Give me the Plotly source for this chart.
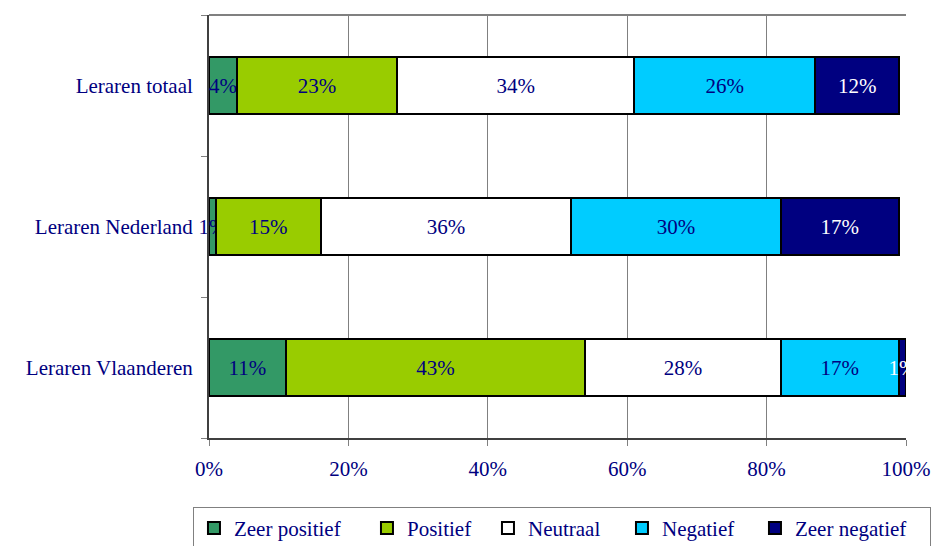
import plotly.graph_objects as go

# Categories (top to bottom) and response shares in percent
categories = ["Leraren totaal", "Leraren Nederland", "Leraren Vlaanderen"]
series_names = ["Zeer positief", "Positief", "Neutraal", "Negatief", "Zeer negatief"]
zeer_positief = [4, 1, 11]
positief = [23, 15, 43]
neutraal = [34, 36, 28]
negatief = [26, 30, 17]
zeer_negatief = [12, 17, 1]
x_ticks = [0, 20, 40, 60, 80, 100]

values = [zeer_positief, positief, neutraal, negatief, zeer_negatief]
colors = ["#339966", "#99CC00", "#FFFFFF", "#00CCFF", "#000080"]
label_colors = ["#000080", "#000080", "#000080", "#000080", "#FFFFFF"]
legend_widths = [128, 76, 89, 88, 130]  # px per legend entry

FONT = "Liberation Serif"
NAVY = "#000080"
FS = 21

fig = go.Figure()
for name, vals, col, tcol, lw in zip(series_names, values, colors, label_colors, legend_widths):
    fig.add_trace(go.Bar(
        y=categories,
        x=vals,
        name=name,
        orientation="h",
        marker=dict(color=col, line=dict(color="#000000", width=2)),
        text=[f"{v}%" for v in vals],
        textposition="inside",
        insidetextanchor="middle",
        textangle=0,
        constraintext="none",
        cliponaxis=False,
        textfont=dict(family=FONT, size=FS, color=tcol),
        legendwidth=lw,
        hoverinfo="skip",
    ))

fig.update_layout(
    barmode="stack",
    bargap=0.59,
    width=935,
    height=546,
    margin=dict(l=209, r=29, t=15, b=108, autoexpand=False),
    paper_bgcolor="white",
    plot_bgcolor="white",
    font=dict(family=FONT, size=FS, color=NAVY),
    showlegend=True,
    legend=dict(
        orientation="h",
        x=-0.023, xanchor="left",
        y=-0.163, yanchor="top",
        bordercolor="#808080",
        borderwidth=1,
        font=dict(family=FONT, size=FS, color=NAVY),
        traceorder="normal",
        itemwidth=30,
    ),
    xaxis=dict(
        range=[0, 100],
        tickvals=x_ticks,
        ticktext=[f"{t}%" for t in x_ticks],
        showgrid=True,
        gridcolor="#808080",
        gridwidth=1,
        showline=True,
        linecolor="#404040",
        linewidth=2,
        ticks="outside",
        ticklen=6,
        tickcolor="#808080",
        ticklabelstandoff=5,
        zeroline=False,
        automargin=False,
        tickfont=dict(family=FONT, size=FS, color=NAVY),
    ),
    yaxis=dict(
        categoryorder="array",
        categoryarray=categories[::-1],
        showline=True,
        linecolor="#404040",
        linewidth=2,
        ticks="outside",
        tickson="boundaries",
        ticklen=6,
        tickcolor="#808080",
        ticklabelstandoff=10,
        showgrid=False,
        automargin=False,
        tickfont=dict(family=FONT, size=FS, color=NAVY),
    ),
    shapes=[dict(
        type="line", xref="paper", yref="paper",
        x0=0, x1=1, y0=1, y1=1,
        line=dict(color="#808080", width=2),
    )],
)

fig.write_html("out.html")
